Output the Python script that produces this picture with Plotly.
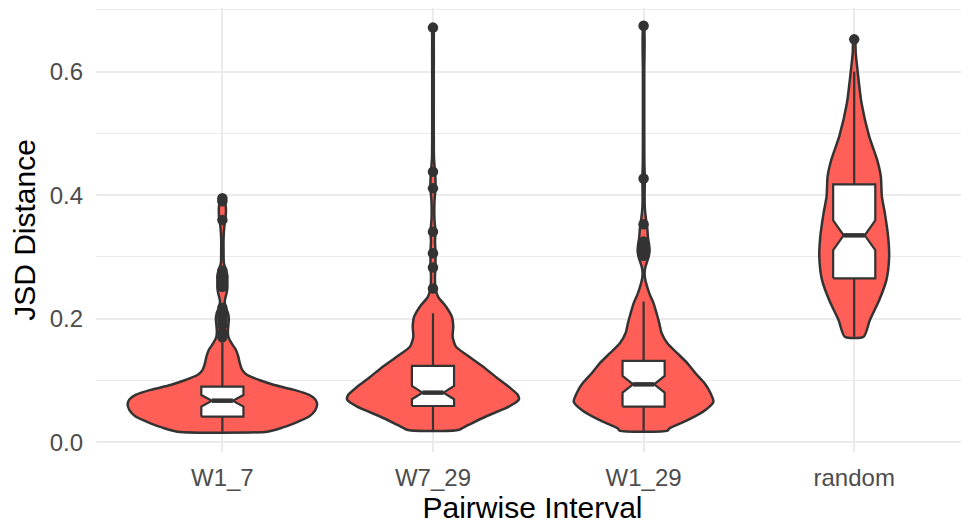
import plotly.graph_objects as go

categories = ["W1_7", "W7_29", "W1_29", "random"]

# violin profiles: value levels and relative density (1 = widest violin)
w1_7_levels = [0.0175, 0.024, 0.031, 0.042, 0.052, 0.062, 0.070, 0.077, 0.085, 0.093, 0.101, 0.109,
               0.117, 0.128, 0.139, 0.150, 0.161, 0.171, 0.180, 0.190, 0.200, 0.210, 0.220, 0.230,
               0.240, 0.250, 0.260, 0.270, 0.280, 0.290, 0.310, 0.330, 0.350, 0.360, 0.370, 0.380,
               0.390, 0.395]
w1_7_density = [45, 60, 72, 87, 93, 95, 93, 87, 72, 52, 37, 25, 20, 17.5, 16, 13.5, 9, 6, 5.5, 6,
                6.5, 5.5, 3, 2.5, 4, 5, 5, 5, 3.5, 1.5, 1.2, 1.2, 2, 3, 3.5, 3.5, 2.5, 1.5]

w7_29_levels = [0.0202, 0.028, 0.042, 0.058, 0.069, 0.077, 0.090, 0.106, 0.123, 0.139, 0.155, 0.171,
                0.187, 0.203, 0.220, 0.236, 0.250, 0.270, 0.283, 0.300, 0.310, 0.325, 0.341, 0.360,
                0.390, 0.411, 0.425, 0.438, 0.460, 0.500, 0.550, 0.600, 0.650, 0.671]
w7_29_density = [25, 35, 53, 76, 86, 85, 76, 63, 50, 36, 23, 19.7, 20.3, 19, 13, 5, 2.5, 2, 2.5,
                 2.5, 2.5, 2, 2.5, 1.5, 1.5, 2.5, 2.5, 2, 1, 0.8, 0.8, 0.8, 0.8, 0.5]

w1_29_levels = [0.019, 0.023, 0.036, 0.0526, 0.066, 0.080, 0.096, 0.112, 0.128, 0.144, 0.160, 0.177,
                0.193, 0.209, 0.225, 0.240, 0.255, 0.265, 0.275, 0.285, 0.300, 0.310, 0.320, 0.330,
                0.340, 0.350, 0.360, 0.380, 0.400, 0.420, 0.430, 0.450, 0.500, 0.600, 0.674]
w1_29_density = [24, 26, 44, 62, 70, 67, 61, 52, 44, 34, 24, 18, 15.7, 13, 10, 6, 3, 1.5, 1, 2, 5,
                 6, 5.5, 4.5, 4, 3.5, 2.5, 1.2, 1, 1.2, 1.2, 0.8, 0.7, 0.7, 0.5]

random_levels = [0.171, 0.198, 0.230, 0.263, 0.300, 0.333, 0.371, 0.398, 0.430, 0.457, 0.495, 0.549,
                 0.602, 0.630, 0.652]
random_density = [9.5, 15.7, 25, 32.3, 35, 34, 30.7, 27.7, 26.7, 23, 15, 7.3, 3.3, 1.5, 0.8]

violin_levels = [w1_7_levels, w7_29_levels, w1_29_levels, random_levels]
violin_density = [w1_7_density, w7_29_density, w1_29_density, random_density]
density_max = 95.0

# box statistics
whisker_low = [0.0175, 0.0202, 0.019, 0.171]
q1 = [0.0417, 0.059, 0.058, 0.2655]
notch_low = [0.058, 0.070, 0.0806, 0.311]
median = [0.0676, 0.0806, 0.094, 0.335]
notch_high = [0.0768, 0.0914, 0.1076, 0.359]
q3 = [0.0903, 0.124, 0.132, 0.4175]
whisker_high = [0.162, 0.209, 0.228, 0.60]

outliers = [
    [0.395, 0.39, 0.36, 0.278, 0.27, 0.262, 0.252, 0.218, 0.21, 0.204, 0.198, 0.19, 0.178, 0.17],
    [0.671, 0.438, 0.411, 0.341, 0.306, 0.283, 0.249],
    [0.674, 0.427, 0.353, 0.325, 0.318, 0.312, 0.307, 0.302],
    [0.652],
]

FILL = "#FF5F56"
INK = "#333333"
VIOLIN_HALF = 0.45
BOX_HALF = 0.1
NOTCH_HALF = 0.05

fig = go.Figure()

for i, cat in enumerate(categories):
    xc = i + 1
    lv = violin_levels[i]
    dn = [d / density_max * VIOLIN_HALF for d in violin_density[i]]
    xs = [xc + d for d in dn] + [xc - d for d in reversed(dn)] + [xc + dn[0]]
    ys = list(lv) + list(reversed(lv)) + [lv[0]]
    fig.add_trace(go.Scatter(x=xs, y=ys, mode="lines", fill="toself", fillcolor=FILL,
                             line=dict(color=INK, width=2.5, shape="spline", smoothing=0.6),
                             hoverinfo="skip", showlegend=False))

for i, cat in enumerate(categories):
    xc = i + 1
    # whiskers
    fig.add_trace(go.Scatter(x=[xc, xc, None, xc, xc],
                             y=[q3[i], whisker_high[i], None, q1[i], whisker_low[i]],
                             mode="lines", line=dict(color=INK, width=2.2),
                             hoverinfo="skip", showlegend=False))
    # notched box
    bx = [xc - BOX_HALF, xc - BOX_HALF, xc - NOTCH_HALF, xc - BOX_HALF, xc - BOX_HALF,
          xc + BOX_HALF, xc + BOX_HALF, xc + NOTCH_HALF, xc + BOX_HALF, xc + BOX_HALF, xc - BOX_HALF]
    by = [q1[i], notch_low[i], median[i], notch_high[i], q3[i],
          q3[i], notch_high[i], median[i], notch_low[i], q1[i], q1[i]]
    fig.add_trace(go.Scatter(x=bx, y=by, mode="lines", fill="toself", fillcolor="white",
                             line=dict(color=INK, width=2.2), hoverinfo="skip", showlegend=False))
    # median
    fig.add_trace(go.Scatter(x=[xc - NOTCH_HALF, xc + NOTCH_HALF], y=[median[i], median[i]],
                             mode="lines", line=dict(color=INK, width=4.5),
                             hoverinfo="skip", showlegend=False))
    # outliers
    fig.add_trace(go.Scatter(x=[xc] * len(outliers[i]), y=outliers[i], mode="markers",
                             marker=dict(color=INK, size=10.5, line=dict(width=0)),
                             hoverinfo="skip", showlegend=False))

fig.update_layout(
    width=961, height=521,
    margin=dict(l=88, r=0, t=0, b=77),
    plot_bgcolor="white", paper_bgcolor="white",
    font=dict(family="Liberation Sans, Arial, sans-serif"),
    xaxis=dict(range=[0.4, 4.545], tickvals=[1, 2, 3, 4], ticktext=categories,
               showgrid=True, gridcolor="#EBEBEB", gridwidth=2, zeroline=False,
               showline=False, ticks="", tickfont=dict(size=24, color="#4D4D4D"),
               ticklabelstandoff=9,
               title=dict(text="Pairwise Interval", font=dict(size=30, color="black"), standoff=6)),
    yaxis=dict(range=[-0.0154, 0.7027], tickvals=[0, 0.2, 0.4, 0.6],
               ticktext=["0.0", "0.2", "0.4", "0.6"],
               showgrid=True, gridcolor="#EBEBEB", gridwidth=2, zeroline=False,
               showline=False, ticks="", tickfont=dict(size=24, color="#4D4D4D"),
               ticklabelstandoff=12,
               minor=dict(tickvals=[0.1, 0.3, 0.5, 0.7], showgrid=True, gridcolor="#EBEBEB",
                          gridwidth=1),
               title=dict(text="JSD Distance", font=dict(size=30, color="black"), standoff=12)),
)

fig.write_html("out.html")
